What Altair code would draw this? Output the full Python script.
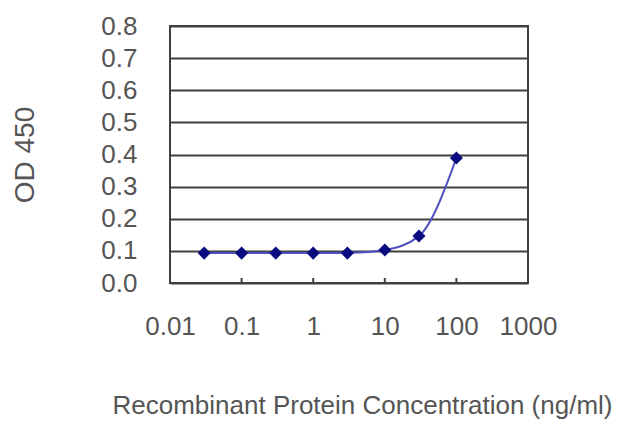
import altair as alt
import pandas as pd

# concentration series (ng/ml) and OD 450 readings
conc = [0.03, 0.1, 0.3, 1, 3, 10, 30, 100]
od450 = [0.093, 0.093, 0.093, 0.093, 0.093, 0.103, 0.146, 0.389]
x_ticks = [0.01, 0.1, 1, 10, 100, 1000]
y_ticks = [0.0, 0.1, 0.2, 0.3, 0.4, 0.5, 0.6, 0.7, 0.8]

df = pd.DataFrame({"conc": conc, "od": od450})
df_ticks = pd.DataFrame({"conc": x_ticks[1:-1]})

FONT = "Liberation Sans"
W, H = 358, 257

x_scale = alt.Scale(type="log", domain=[0.01, 1000])
y_scale = alt.Scale(domain=[0, 0.8])

x_axis = alt.Axis(
    values=x_ticks, tickCount=20, labelOverlap=False, labelFlush=False,
    labelExpr="format(datum.value, '~g')",
    ticks=False, grid=False, domain=False, labelPadding=30, labelFontSize=26,
    labelColor="#555555", labelFont=FONT,
    title="Recombinant Protein Concentration (ng/ml)", titleFontSize=26, titleFont=FONT,
    titleFontWeight="normal", titleColor="#555555", titleX=192, titleY=122,
    titleAnchor="middle", titleBaseline="middle",
)
y_axis = alt.Axis(
    values=y_ticks, tickCount=20, labelOverlap=False, labelFlush=False, format=".1f",
    ticks=False, domain=False, labelPadding=33, labelFontSize=26, labelColor="#555555",
    labelFont=FONT, gridColor="#404040", gridWidth=2, gridOpacity=1,
    title="OD 450", titleFontSize=28, titleFont=FONT, titleFontWeight="normal",
    titleColor="#555555", titleAngle=270, titleX=-145, titleY=H / 2,
    titleAlign="center", titleBaseline="middle",
)

line = alt.Chart(df).mark_line(interpolate="monotone", color="#5050c0", strokeWidth=2).encode(
    x=alt.X("conc:Q", scale=x_scale, axis=x_axis),
    y=alt.Y("od:Q", scale=y_scale, axis=y_axis),
)

points = alt.Chart(df).mark_point(shape="diamond", filled=True, color="#0a0a80", size=170, opacity=1).encode(
    x=alt.X("conc:Q", scale=x_scale),
    y=alt.Y("od:Q", scale=y_scale),
)

# small inward tick marks on the bottom axis
ticks = alt.Chart(df_ticks).mark_rule(color="#404040", strokeWidth=2).encode(
    x=alt.X("conc:Q", scale=x_scale),
    y=alt.value(H - 5),
    y2=alt.value(H),
)

chart = alt.layer(line, ticks, points).properties(
    width=W, height=H,
    autosize=alt.AutoSizeParams(type="none"),
    padding={"left": 162, "top": 18, "right": 100, "bottom": 140},
    background="white",
).configure_view(stroke="#404040", strokeWidth=2)

chart.save("out.html", embed_options={"renderer": "svg", "actions": False})
